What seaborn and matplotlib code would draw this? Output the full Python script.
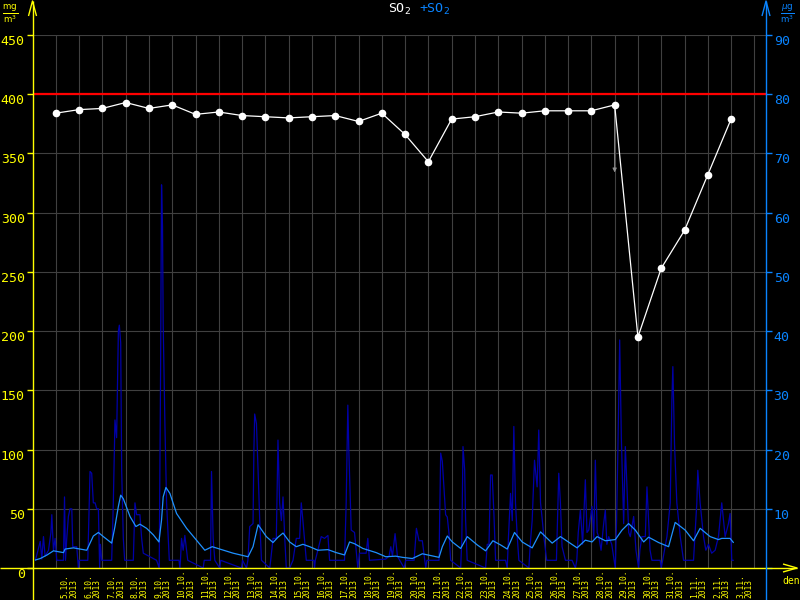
import matplotlib
matplotlib.use("Agg")
import matplotlib.pyplot as plt
import matplotlib.transforms as mtransforms
import seaborn as sns
import pandas as pd
from matplotlib.lines import Line2D

sns.set_theme(style="dark")
plt.rcParams['font.family'] = ['DejaVu Sans Mono', 'DejaVu Sans']

# ---------------- data ----------------
# day labels (day index 1 = 5.10.2013 00:00, index 0 = 4.10.2013 00:00)
day_labels = ['5.10.', '6.10.', '7.10.', '8.10.', '9.10.', '10.10.', '11.10.', '12.10.',
              '13.10.', '14.10.', '15.10.', '16.10.', '17.10.', '18.10.', '19.10.',
              '20.10.', '21.10.', '22.10.', '23.10.', '24.10.', '25.10.', '26.10.',
              '27.10.', '28.10.', '29.10.', '30.10.', '31.10.', '1.11.', '2.11.', '3.11.']
year_label = '2013'
day_index = list(range(1, 31))

# daily values (left axis, mg/m3)
daily_vals = [384, 387, 388, 393, 388, 391, 383, 385, 382, 381, 380, 381, 382, 377, 384,
              366, 343, 379, 381, 385, 384, 386, 386, 386, 391, 195, 253, 285, 332, 379]
limit_value = 400
arrow_day = [25]
arrow_from = [391]
arrow_to = [334]

# hourly SO2 (right axis, ug/m3): hours since 4.10. 00:00
hourly_h = [3, 8, 9.6, 11.3, 13, 16.5, 19, 19.9, 21.6, 23.3, 25, 31.9, 33, 34, 35.3, 37, 38.7,
            40.5, 41.5, 45.6, 47.3, 48, 57, 59.3, 61, 62.7, 64.5, 66.2, 67.9, 69.2, 70, 71.3,
            81.6, 83.3, 85, 86.7, 88.5, 89.5, 90.9, 91.9, 93.6, 95, 103.9, 105.6, 107.3, 110.7,
            112.5, 114.2, 127.9, 130.6, 132, 133, 134, 134.7, 136.5, 138.2, 141, 151, 151.9,
            152.5, 153.6, 155.3, 157, 158.8, 160, 175.9, 177, 183.5, 184.5, 186.2, 187.9, 193,
            194, 215.3, 216.5, 220.5, 222, 223.9, 227.3, 228.2, 229, 230.8, 232.5, 234.2, 236,
            244.5, 245.5, 247.9, 251.3, 253, 254.7, 256.5, 258.2, 260, 261.6, 265, 268.5, 271.9,
            275.3, 277, 278.7, 282.2, 290, 290.7, 291.5, 297.6, 301, 304.5, 306.2, 321.6, 323.3,
            325, 326, 328.5, 331.9, 335.3, 337, 343.9, 345.6, 347.3, 364, 367.5, 369.3, 371,
            373.7, 376.1, 383, 384.7, 393.3, 395.7, 398.4, 401.8, 405.3, 406.5, 419, 420.7,
            422.4, 424.1, 425.8, 427.5, 429.3, 431, 441.3, 442.5, 443.7, 445.4, 446.4, 448, 467,
            468.7, 470.5, 472.1, 473.8, 475.6, 477.3, 487.6, 489.3, 490.5, 492.7, 494.5, 496.1,
            497.8, 499.6, 501.3, 511.6, 513, 515, 517.4, 520.1, 521.8, 523.6, 525.5, 527, 530,
            540, 542.4, 544.1, 545.8, 549.3, 556.1, 559.6, 561, 562.5, 564.7, 567, 569.8, 571.5,
            573.3, 576.7, 578.5, 580.1, 582, 583.6, 586, 588.7, 590.4, 592, 593.9, 597, 600.7,
            602, 603.4, 605.2, 606.9, 609.3, 611, 612.7, 614.5, 616.1, 619.6, 622, 624.7, 626,
            628.1, 631.6, 633.3, 635, 636.5, 638.4, 647, 648, 649.5, 653.9, 657.3, 659, 660,
            661.7, 664.1, 667.6, 671, 681.3, 684.7, 685.7, 688.1, 691.6, 694, 696.7, 700, 703.6,
            707, 710.4, 713.9, 717.3, 719, 720.7, 722.4]
hourly_v = [1.3, 4.5, 1.5, 5.3, 2, 3, 6, 9, 3, 5, 1.3, 1.3, 12, 1.3, 5, 8.7, 10,
            10, 3.6, 3.6, 0, 1.3, 1.3, 16.3, 16, 11, 11, 10, 10, 0, 4, 1.3,
            1.3, 11, 25, 22, 40, 41, 38, 16.5, 5, 1.3, 1.3, 11, 9, 9,
            5, 2.5, 1.3, 0, 33, 64.7, 57.6, 41, 24, 11, 1.3, 1.3, 0,
            1.3, 5, 3, 5.5, 3, 1.3, 0, 1.3, 1.3, 16.3, 5, 1.3, 0,
            1.3, 0, 1.3, 0, 1.3, 7, 7.5, 20, 26, 24.4, 16.5, 8, 1.3,
            0, 1.3, 5, 5, 21.6, 11, 8, 12, 5, 0, 0, 1.3, 5,
            5, 11, 8, 1.3, 1.3, 0, 1.3, 5.3, 5, 5.5, 1.3, 1.3, 11,
            27.5, 20, 6.4, 6, 0, 2.5, 2.5, 5, 1.3, 1.5, 2, 3.6, 2,
            5.8, 2, 0, 1.3, 1.3, 6.7, 4.6, 4.6, 0, 1.3, 1.3, 19.4,
            18, 13.5, 9, 8.6, 5.8, 1.3, 0, 5, 20.5, 16.6, 8, 1.3, 0,
            4, 4, 15.7, 15.7, 9, 1.3, 1.3, 0, 5, 12.6, 8, 23.9,
            11, 5.3, 1.3, 0, 4, 8, 18.2, 13.7, 23.3, 11, 8, 5.3, 1.3,
            1.3, 16, 11, 3.6, 1.3, 1.3, 0, 1.3, 6, 9.8, 4, 14.9, 6,
            6.4, 10.4, 5, 18.2, 6, 5.3, 3, 7.5, 9.8, 4, 5.3, 4, 0,
            8, 20.5, 38.5, 22, 7.5, 20.5, 13.7, 6, 5.3, 8.7, 3, 0, 3,
            5.3, 5.3, 13.7, 8, 3, 1.3, 1.3, 0, 1.3, 5.3, 11, 28.4, 34,
            21, 11, 5.3, 1.3, 1.3, 11, 16.5, 11, 5.3, 3, 4, 2.5, 3,
            5.3, 11, 5.3, 7.5, 9.2, 1.3, 1.3]

# smoothed SO2 (right axis)
smooth_h = [3, 8, 15, 21.6, 31.9, 33.6, 42.2, 55.9, 59.3, 62.7, 67.9, 73, 81.6, 85, 88.5,
            90.9, 93.6, 100.5, 106.6, 110.7, 117.6, 124.5, 130.3, 133, 134.7, 137.5, 141.6,
            148.5, 158.8, 169, 177.6, 185.2, 193, 206.8, 222.2, 227.3, 232.5, 241, 247.9, 253,
            258.2, 265, 271.9, 278.7, 285.6, 294.2, 304.5, 313, 321.6, 326.8, 331.9, 340.5,
            354.2, 364.1, 374.4, 381.3, 391.5, 401.8, 419, 422.4, 427.5, 432.7, 441.3, 448.1,
            458.4, 467, 474.5, 482.4, 489.3, 496.8, 504.7, 515, 523.6, 535.6, 544.1, 561.3,
            569.8, 576.7, 581.9, 590.4, 600.7, 607.6, 614.4, 621.3, 629.9, 635, 645.3, 655.6,
            662.4, 672.7, 681.3, 688.1, 698.4, 707, 710.4, 719, 722.4]
smooth_v = [1.35, 1.6, 2.2, 2.9, 2.6, 3.2, 3.4, 3.0, 4.2, 5.4, 6.0, 5.3, 4.2, 7.0, 10.4,
            12.3, 11.7, 8.7, 7.0, 7.4, 6.7, 5.6, 4.4, 8.1, 12.0, 13.6, 12.6,
            9.2, 6.7, 4.7, 3.0, 3.6, 3.2, 2.5, 1.9, 3.6, 7.3, 5.3, 4.3, 5.2,
            5.9, 4.4, 3.6, 4.0, 3.6, 3.0, 3.1, 2.6, 2.2, 4.4, 4.1, 3.3,
            2.6, 1.9, 2.0, 1.8, 1.6, 2.4, 1.8, 3.6, 5.4, 4.4, 3.3, 5.3,
            3.9, 2.9, 4.6, 3.9, 3.2, 6.0, 4.4, 3.4, 6.1, 4.2, 5.3, 3.4,
            4.7, 4.4, 5.3, 4.6, 4.8, 6.4, 7.5, 6.4, 4.4, 5.2, 4.3, 3.6,
            7.7, 6.4, 4.6, 6.7, 5.3, 4.8, 5.0, 5.0, 4.3]

# ---------------- styling ----------------
YEL = '#ffff00'
BLUE = '#0a84ff'
LBLUE = '#1e90ff'
DBLUE = '#0000a8'
GRID = '#404040'

W, H = 800, 600
L, R, B, T = 32.5, 766, 568, 35

fig = plt.figure(figsize=(8, 6), dpi=100, facecolor='black')
ax_r = fig.add_axes([L / W, 1 - B / H, (R - L) / W, (B - T) / H])
ax_r.set_facecolor('black')
ax_l = ax_r.twinx()

df_hour = pd.DataFrame({'day': [h / 24 for h in hourly_h], 'v': hourly_v})
df_smooth = pd.DataFrame({'day': [h / 24 for h in smooth_h], 'v': smooth_v})
df_daily = pd.DataFrame({'day': day_index, 'v': daily_vals})

sns.lineplot(data=df_hour, x='day', y='v', ax=ax_r, color=DBLUE, lw=0.9, estimator=None)
sns.lineplot(data=df_smooth, x='day', y='v', ax=ax_r, color=LBLUE, lw=0.9, estimator=None)

ax_l.axhline(limit_value, color='#ff0000', lw=1.6, zorder=3)
sns.lineplot(data=df_daily, x='day', y='v', ax=ax_l, color='white', lw=0.9,
             marker='o', markersize=5.5, markeredgewidth=0, markerfacecolor='white',
             estimator=None, zorder=4)
for d, a, b in zip(arrow_day, arrow_from, arrow_to):
    ax_l.annotate('', xy=(d, b), xytext=(d, a),
                  arrowprops=dict(arrowstyle='-|>', color='#909090', lw=0.7,
                                  mutation_scale=6, shrinkA=3, shrinkB=0), zorder=3)

ax_r.set_xlim(0, 31.5)
ax_r.set_ylim(0, 90)
ax_l.set_ylim(0, 450)
for a in (ax_r, ax_l):
    a.set_xlabel('')
    a.set_ylabel('')
    for s in a.spines.values():
        s.set_visible(False)

# grid on lower axes
ax_r.set_axisbelow(True)
ax_r.grid(True, which='major', color=GRID, lw=0.8)
ax_l.grid(False)

# x ticks at midnight (ticks + grid); labels centred in each day, anchored at bottom
ax_r.set_xticks(list(range(1, 32)))
ax_r.set_xticklabels([''] * 31)
ax_r.tick_params(axis='x', which='major', colors=YEL, length=4, width=1, direction='out')
ax_r.xaxis.grid(True, which='major', color=GRID, lw=0.8)
lab_tr = mtransforms.blended_transform_factory(ax_r.transData, fig.transFigure)
for d, lab in zip(day_index, day_labels):
    ax_r.text(d + 0.6, 2.5 / H, f'{lab}\n{year_label}', transform=lab_tr, rotation=90,
              ha='center', va='bottom', multialignment='left', linespacing=0.95,
              fontsize=5.7, color=YEL, clip_on=False)

# y ticks
ax_r.yaxis.tick_right()
ax_r.set_yticks(list(range(0, 91, 10)),
                labels=[''] + [str(v) for v in range(10, 91, 10)], va='top')
ax_r.tick_params(axis='y', colors=BLUE, length=4, width=1, direction='out', pad=1.5,
                 labelsize=9.5)
ax_l.yaxis.tick_left()
ax_l.set_yticks(list(range(0, 451, 50)),
                labels=[str(v) for v in range(0, 451, 50)], va='top')
ax_l.tick_params(axis='y', colors=YEL, length=4, width=1, direction='out', pad=1.5,
                 labelsize=9.5)


# ---------------- axis lines with arrows (figure coords) ----------------
def fx(x):
    return x / W


def fy(y):
    return 1 - y / H


def fline(xs, ys, color, lw=1.0):
    fig.add_artist(Line2D([fx(x) for x in xs], [fy(y) for y in ys], color=color, lw=lw,
                          transform=fig.transFigure, solid_capstyle='butt'))


fline([0, 797], [B, B], YEL)
fline([L, L], [600, 1], YEL)
fline([L - 4, L, L + 4], [16, 1, 16], YEL)
fline([R, R], [600, 1], BLUE)
fline([R - 4, R, R + 4], [16, 1, 16], BLUE)
fline([783, 797, 783], [B - 4, B, B + 4], YEL)

# units, title, axis name
fig.text(fx(10), fy(14), r'$\frac{\mathrm{mg}}{\mathrm{m}^3}$', color=YEL, fontsize=9,
         ha='center', va='center')
fig.text(fx(787), fy(14), r'$\frac{\mu\mathrm{g}}{\mathrm{m}^3}$', color=BLUE, fontsize=9,
         ha='center', va='center')
fig.text(fx(388), fy(2), 'SO$_2$', color='white', fontsize=9.5, ha='left', va='top')
fig.text(fx(419), fy(2), '+SO$_2$', color=BLUE, fontsize=9.5, ha='left', va='top')
fig.text(fx(791), fy(576), 'den', color=YEL, fontsize=7, ha='center', va='top')

fig.savefig('out.png', dpi=100, facecolor='black')
